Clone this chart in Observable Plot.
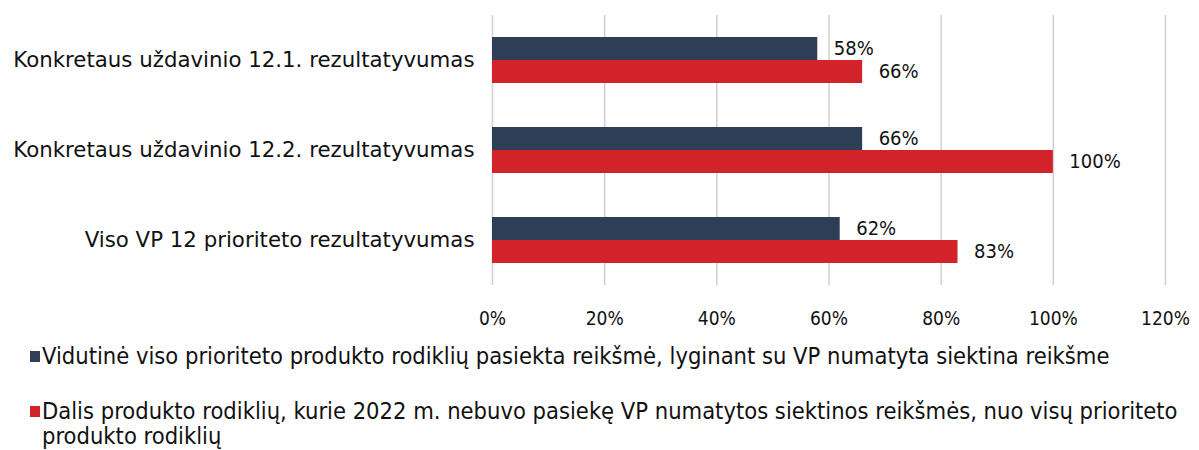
<!DOCTYPE html>
<html>
<head>
<meta charset="utf-8">
<script src="https://cdn.jsdelivr.net/npm/d3@7"></script>
<script src="https://cdn.jsdelivr.net/npm/@observablehq/plot@0.6"></script>
<style>
  body { margin: 0; background: #fff; }
  #chart { width: 1199px; height: 450px; position: relative; overflow: hidden; }
  .legend { font-family: "DejaVu Sans Condensed", "Liberation Sans Narrow", sans-serif; font-size: 23.5px; color: #111; }
  .item { position: absolute; left: 30px; display: flex; align-items: flex-start; }
  .sw { width: 10px; height: 11px; margin-top: 7px; margin-right: 2px; flex: none; }
  .txt { width: 1160px; line-height: 25px; }
</style>
</head>
<body>
<div id="chart"></div>
<script>
const categories = [
  "Konkretaus uždavinio 12.1. rezultatyvumas",
  "Konkretaus uždavinio 12.2. rezultatyvumas",
  "Viso VP 12 prioriteto rezultatyvumas"
];
const seriesNames = [
  "Vidutinė viso prioriteto produkto rodiklių pasiekta reikšmė, lyginant su VP numatyta siektina reikšme",
  "Dalis produkto rodiklių, kurie 2022 m. nebuvo pasiekę VP numatytos siektinos reikšmės, nuo visų prioriteto produkto rodiklių"
];
const seriesAvg = [0.58, 0.66, 0.62];
const seriesShare = [0.66, 1.00, 0.83];
const xTicks = [0, 0.2, 0.4, 0.6, 0.8, 1.0, 1.2];
const colors = ["#2e3e56", "#d2232a"];

const data = categories.flatMap((c, i) => [
  {cat: c, series: seriesNames[0], value: seriesAvg[i]},
  {cat: c, series: seriesNames[1], value: seriesShare[i]}
]);
const pct = d => Math.round(d * 100) + "%";
const narrow = "DejaVu Sans Condensed, Liberation Sans Narrow, sans-serif";

const chart = Plot.plot({
  width: 1199,
  height: 335,
  marginLeft: 492,
  marginRight: 34,
  marginTop: 15,
  marginBottom: 50,
  style: {fontFamily: "DejaVu Sans, sans-serif", color: "#111", background: "#fff"},
  x: {domain: [0, 1.2], label: null},
  fy: {domain: categories, padding: 0, label: null},
  y: {domain: seriesNames, paddingInner: 0, paddingOuter: 0.915, axis: null},
  color: {domain: seriesNames, range: colors},
  marks: [
    Plot.gridX(xTicks, {stroke: "#d0d0d0", strokeOpacity: 1, strokeWidth: 1.5}),
    Plot.barX(data, {x: "value", y: "series", fy: "cat", fill: "series"}),
    Plot.text(data, {x: "value", y: "series", fy: "cat", text: d => pct(d.value),
      textAnchor: "start", dx: 16, fontSize: 20, fill: "#111", fontFamily: narrow}),
    Plot.axisX(xTicks, {anchor: "bottom", tickSize: 0, tickPadding: 26, tickFormat: pct,
      fontSize: 19, fontFamily: narrow, label: null}),
    Plot.axisFy({anchor: "left", tickSize: 0, tickPadding: 18, fontSize: 21.3, label: null})
  ]
});
document.getElementById("chart").appendChild(chart);

const legend = document.createElement("div");
legend.className = "legend";
const tops = [344, 399];
seriesNames.forEach((name, i) => {
  const item = document.createElement("div");
  item.className = "item";
  item.style.top = tops[i] + "px";
  const sw = document.createElement("span");
  sw.className = "sw";
  sw.style.background = colors[i];
  const t = document.createElement("span");
  t.className = "txt";
  t.textContent = name;
  item.appendChild(sw);
  item.appendChild(t);
  legend.appendChild(item);
});
document.getElementById("chart").appendChild(legend);
</script>
</body>
</html>
